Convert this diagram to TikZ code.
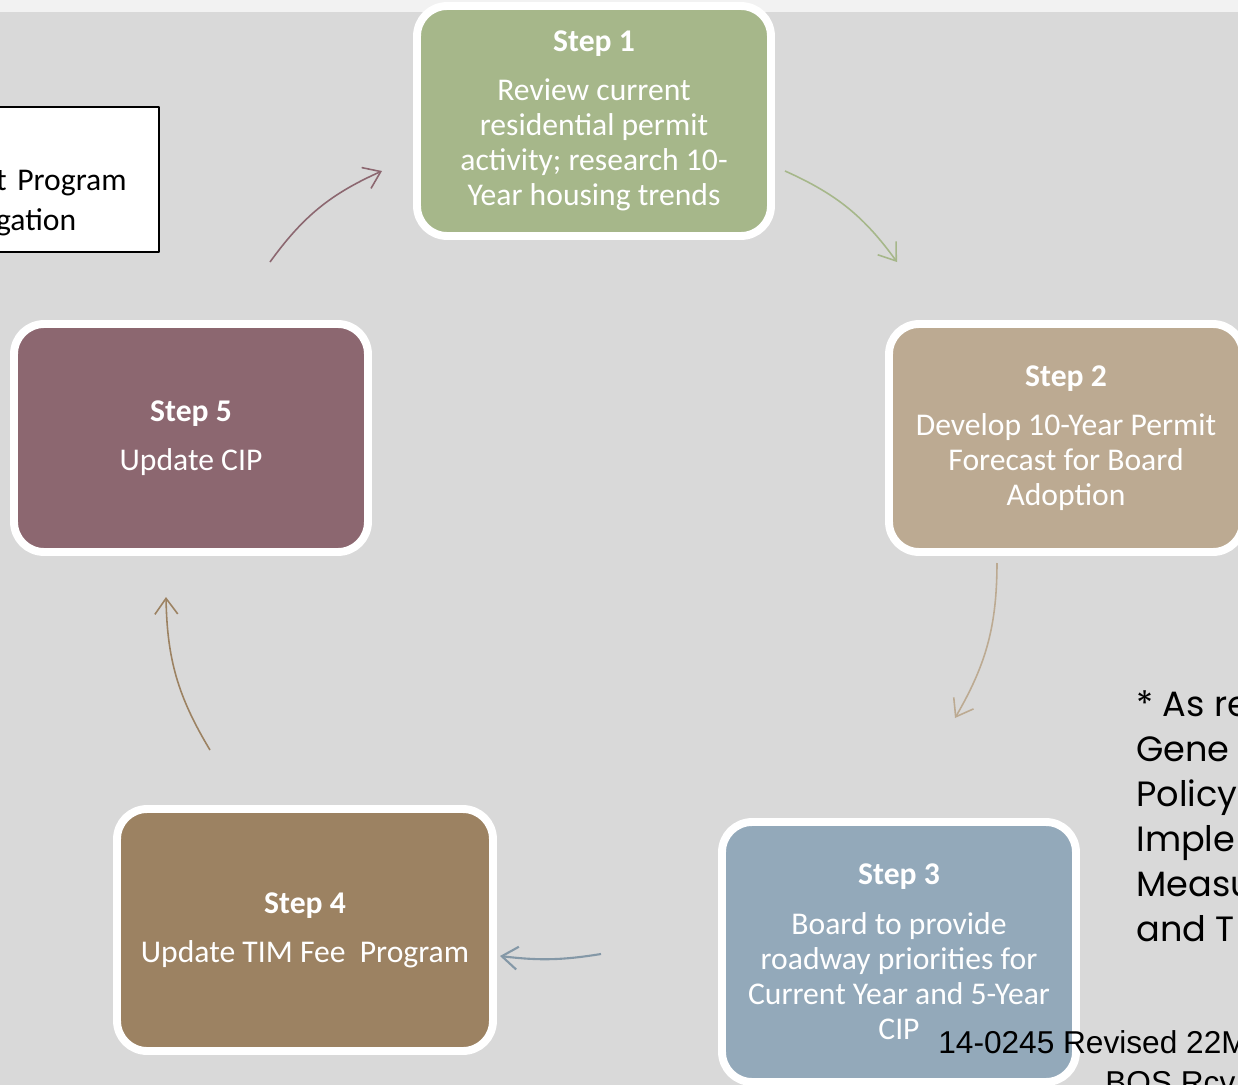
\documentclass[tikz,border=0pt]{standalone}
\usepackage{fontspec}
\setmainfont{Carlito}
\newfontfamily\gothicfont{Poppins}
\newfontfamily\arialfont{Liberation Sans}
\usetikzlibrary{arrows.meta,positioning}
\definecolor{backgray}{HTML}{D9D9D9}
\definecolor{stepgreen}{HTML}{A6B78A}
\definecolor{steptan}{HTML}{BCAA92}
\definecolor{stepblue}{HTML}{93A9BA}
\definecolor{stepbrown}{HTML}{9C8262}
\definecolor{stepplum}{HTML}{8C6770}

\begin{document}
\begin{tikzpicture}[x=0.02cm, y=-0.02cm, line join=round,
  step node/.style={rectangle, rounded corners=0.6cm, draw=white, line width=4.5pt, text=white, align=center, minimum width=7.08cm, inner sep=2pt, font=\fontsize{18}{20}\selectfont},
  loop arrow/.style={-{Straight Barb[length=9pt,width=13pt]}, line width=0.9pt}]
\useasboundingbox (0,0) rectangle (1238,1085);
\fill[backgray] (0,0) rectangle (1238,1085);
\fill[black!5] (0,0) rectangle (1238,12);
\begin{scope}
\node[step node, fill=stepgreen, minimum height=4.6cm] (s1) at (594,121) {\textbf{Step 1}\\[8pt]Review current\\residential permit\\activity; research 10-\\Year housing trends};
\node[step node, fill=steptan, minimum height=4.56cm] (s2) at (1066,438) {\textbf{Step 2}\\[8pt]Develop 10-Year Permit\\Forecast for Board\\Adoption};
\node[step node, fill=stepblue, minimum height=5.2cm] (s3) at (899,952) {\textbf{Step 3}\\[8pt]Board to provide\\roadway priorities for\\Current Year and 5-Year\\CIP};
\node[step node, fill=stepbrown, minimum width=7.52cm, minimum height=4.84cm] (s4) at (305,930) {\textbf{Step 4}\\[8pt]Update TIM Fee~ Program};
\node[step node, fill=stepplum, minimum height=4.56cm] (s5) at (191,438) {\textbf{Step 5}\\[8pt]Update CIP};
\end{scope}
\node[draw=black, fill=white, line width=1pt, anchor=east, align=left, text width=3.26cm, inner sep=0pt, minimum height=2.9cm, font=\fontsize{18}{22.8}\selectfont] (note) at (160,179.5) {\strut\\t Program\\gation};
\node[anchor=north west, align=left, inner sep=0pt, font=\gothicfont\fontsize{20}{25.6}\selectfont] (remark) at (1136,690) {* As re\\Gene\\Policy\\Imple\\Measu\\and T};
\node[anchor=base west, inner sep=0pt, font=\arialfont\fontsize{18}{20}\selectfont] (rev) at (938,1053) {14-0245 Revised 22M};
\node[anchor=base west, inner sep=0pt, font=\arialfont\fontsize{18}{20}\selectfont] (rcv) at (1105,1093) {BOS Rcv};
\begin{scope}
\coordinate (a51) at (270,262);
\coordinate (b51) at (382,171);
\coordinate (a12) at (785,171);
\coordinate (b12) at (897,262);
\coordinate (a23) at (997,563);
\coordinate (b23) at (955,718);
\coordinate (a34) at (601,954);
\coordinate (b34) at (500,956);
\coordinate (a45) at (210,750);
\coordinate (b45) at (166,597);
\draw[loop arrow, stepplum] (a51) to[bend left=15] (b51);
\draw[loop arrow, stepgreen] (a12) to[bend left=15] (b12);
\draw[loop arrow, steptan] (a23) to[bend left=15] (b23);
\draw[loop arrow, stepblue!90!black, line width=1.2pt] (a34) to[bend left=8] (b34);
\draw[loop arrow, stepbrown] (a45) to[bend left=15] (b45);
\end{scope}
\end{tikzpicture}
\end{document}
